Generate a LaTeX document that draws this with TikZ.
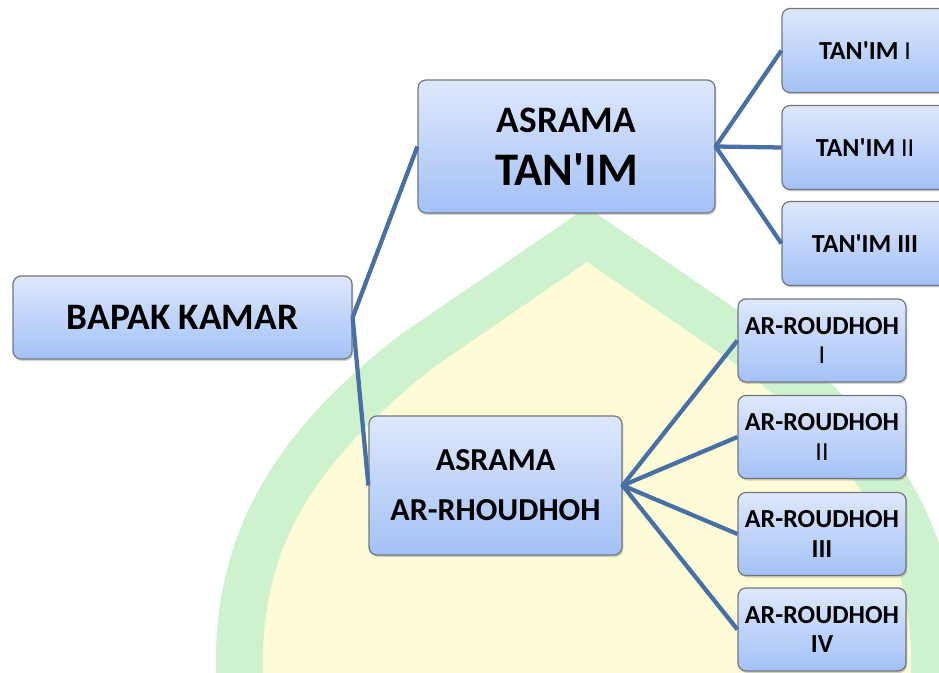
\documentclass[tikz,border=0pt]{standalone}
\usepackage{fontspec}
\newfontfamily\cf{Carlito}
\usetikzlibrary{shadows}
\definecolor{wmgreen}{RGB}{206,242,206}
\definecolor{wmyellow}{RGB}{253,252,214}
\definecolor{linkblue}{RGB}{72,112,166}
\definecolor{boxtop}{RGB}{222,232,252}
\definecolor{boxbot}{RGB}{163,193,247}
\definecolor{boxedge}{RGB}{115,118,125}
\begin{document}
\begin{tikzpicture}[x=0.75pt,y=-0.75pt,
  orgbox/.style={draw=boxedge, line width=0.9pt, rounded corners=6pt,
    top color=boxtop, bottom color=boxbot, align=center, inner sep=0pt,
    drop shadow={shadow xshift=1pt, shadow yshift=-1.5pt, opacity=0.35}},
  mainbox/.style={orgbox, minimum width=254.25pt, minimum height=62.25pt,
    font=\cf\bfseries\fontsize{28}{32}\selectfont},
  tanbox/.style={orgbox, minimum width=222.75pt, minimum height=99.75pt,
    font=\cf\bfseries\fontsize{28}{40}\selectfont},
  roudbox/.style={orgbox, minimum width=189.75pt, minimum height=104.25pt,
    font=\cf\bfseries\fontsize{24}{37.5}\selectfont},
  tchild/.style={orgbox, minimum width=124.5pt, minimum height=63pt,
    font=\cf\bfseries\fontsize{19.5}{22}\selectfont},
  rchild/.style={orgbox, minimum width=126pt, minimum height=62.25pt,
    font=\cf\bfseries\fontsize{19.5}{22}\selectfont},
  link/.style={draw=linkblue, line width=3.2pt, line join=round}]
\useasboundingbox (0,0) rectangle (939,673);
\clip (0,0) rectangle (939,673);
% watermark
\fill[wmgreen] (216,673) .. controls (212,520) and (290,420) .. (400,335)
  -- (580,212) .. controls (584,209) and (590,209) .. (594,212)
  -- (774,335) .. controls (884,420) and (962,520) .. (958,673) -- cycle;
\fill[wmyellow] (263,673) .. controls (260,540) and (320,460) .. (430,370)
  -- (587,262) -- (744,370) .. controls (854,460) and (914,540) .. (911,673) -- cycle;
% boxes
\node[mainbox] (bapak) at (182.5,317.5) {BAPAK KAMAR};
\node[tanbox] (tanim) at (566.5,146.5) {ASRAMA\\\fontsize{35}{40}\selectfont TAN'IM};
\node[roudbox] (rhoud) at (495.5,485.5) {ASRAMA\\AR-RHOUDHOH};
\node[tchild] (t1) at (865,50.5) {TAN'IM {\mdseries I}};
\node[tchild] (t2) at (865,147.5) {TAN'IM {\mdseries II}};
\node[tchild] (t3) at (865,243.5) {TAN'IM III};
\node[rchild] (r1) at (822,340.5) {AR-ROUDHOH\\{\mdseries I}};
\node[rchild] (r2) at (822,437) {AR-ROUDHOH\\{\mdseries II}};
\node[rchild] (r3) at (822,534) {AR-ROUDHOH\\III};
\node[rchild] (r4) at (822,629.5) {AR-ROUDHOH\\IV};
% connectors
\draw[link] (tanim.west) -- (bapak.east) -- (rhoud.west);
\draw[link] (t1.west) -- (tanim.east) -- (t3.west);
\draw[link] (tanim.east) -- (t2.west);
\draw[link] (r1.west) -- (rhoud.east) -- (r4.west);
\draw[link] (r2.west) -- (rhoud.east) -- (r3.west);
\end{tikzpicture}
\end{document}
